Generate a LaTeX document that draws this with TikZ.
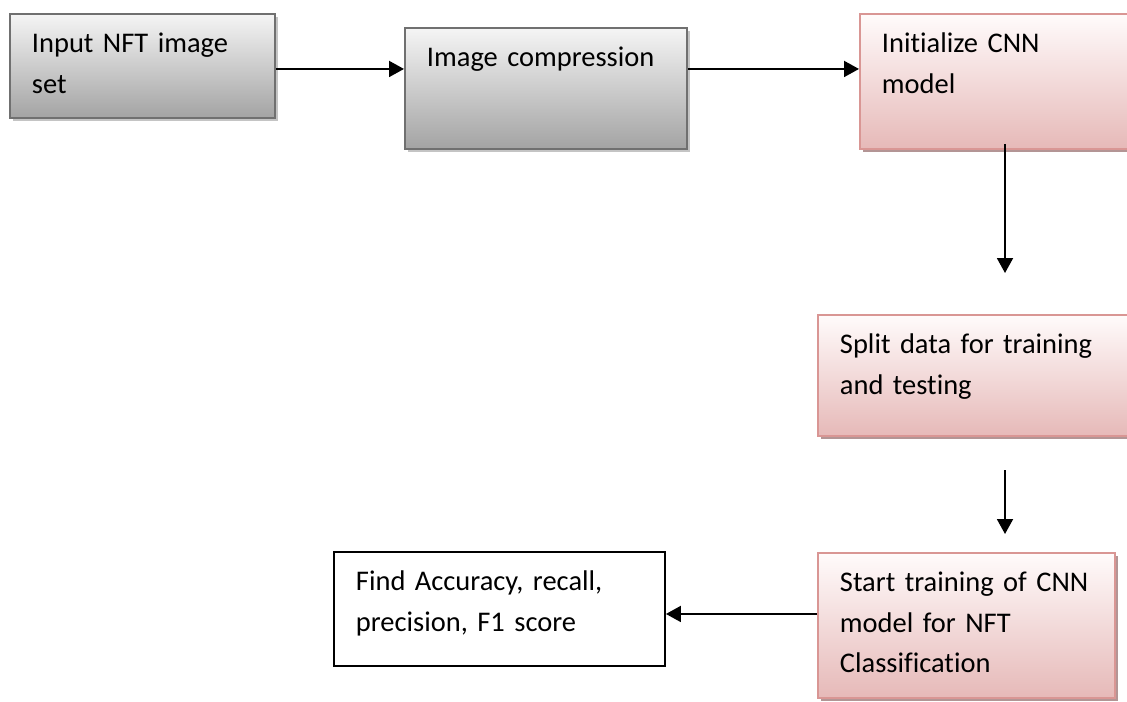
\documentclass[tikz,border=0pt]{standalone}
\usepackage{fontspec}
\setmainfont{Carlito}[Ligatures=NoCommon]
\usepackage{tikz}
\usetikzlibrary{arrows.meta,shadows}

\definecolor{greyline}{HTML}{707070}
\definecolor{greyshade}{HTML}{C4C4C4}
\definecolor{pinkline}{HTML}{D99694}
\definecolor{pinktop}{HTML}{FFFBFB}
\definecolor{pinkbottom}{HTML}{E6B9B8}
\definecolor{pinkshade}{HTML}{B39595}

\begin{document}
\begin{tikzpicture}[>={Triangle[length=0.30cm,width=0.32cm]},line width=1.1pt,
	box/.style={draw,anchor=north west,align=left,inner xsep=0.44cm,inner ysep=0pt,
		text height=0.78cm,font=\fontsize{16.2}{22.8}\selectfont},
	grey node/.style={box,draw=greyline,top color=black!4,bottom color=black!36,
		drop shadow={shadow xshift=0.07cm,shadow yshift=-0.07cm,fill=greyshade,opacity=1}},
	pink node/.style={box,draw=pinkline,top color=pinktop,bottom color=pinkbottom,
		drop shadow={shadow xshift=0.07cm,shadow yshift=-0.07cm,fill=pinkshade,opacity=1}},
	plain node/.style={box,draw=black,fill=white}]
	
	\useasboundingbox (0,0) rectangle (22.54,-14.02);
	
	\node[grey node,text width=4.42cm,text depth=1.30cm] (in) at (0.18,-0.26) {Input NFT image\\set};
	\node[grey node,text width=4.76cm,text depth=1.64cm] (comp) at (8.08,-0.54) {Image compression};
	\node[pink node,text width=5.52cm,text depth=1.92cm] (cnn) at (17.18,-0.26) {Initialize CNN\\model};
	\node[pink node,text width=5.52cm,text depth=1.64cm] (split) at (16.34,-6.28) {Split data for training\\and testing};
	\node[pink node,text width=5.06cm,text depth=2.12cm] (train) at (16.34,-11.04) {Start training of CNN\\model for NFT\\Classification};
	\node[plain node,text width=5.74cm,text depth=1.50cm] (eval) at (6.66,-11.02) {Find Accuracy, recall,\\precision, F1 score};
	
	\coordinate (d1) at (20.10,-5.46);
	\coordinate (d2s) at (20.10,-9.40);
	\coordinate (d2e) at (20.10,-10.68);
	
	\draw[->] ([yshift=-0.06cm]in.east) -- ([yshift=-0.06cm]in.east -| comp.west);
	\draw[->] ([yshift=-0.06cm]in.east -| comp.east) -- ([yshift=-0.06cm]in.east -| cnn.west);
	\draw[->] ([yshift=0.12cm]d1 |- cnn.south) -- (d1);
	\draw[->] (d2s) -- (d2e);
	\draw[->] ([yshift=0.23cm]train.west) -- ([yshift=0.23cm]train.west -| eval.east);
\end{tikzpicture}
\end{document}
